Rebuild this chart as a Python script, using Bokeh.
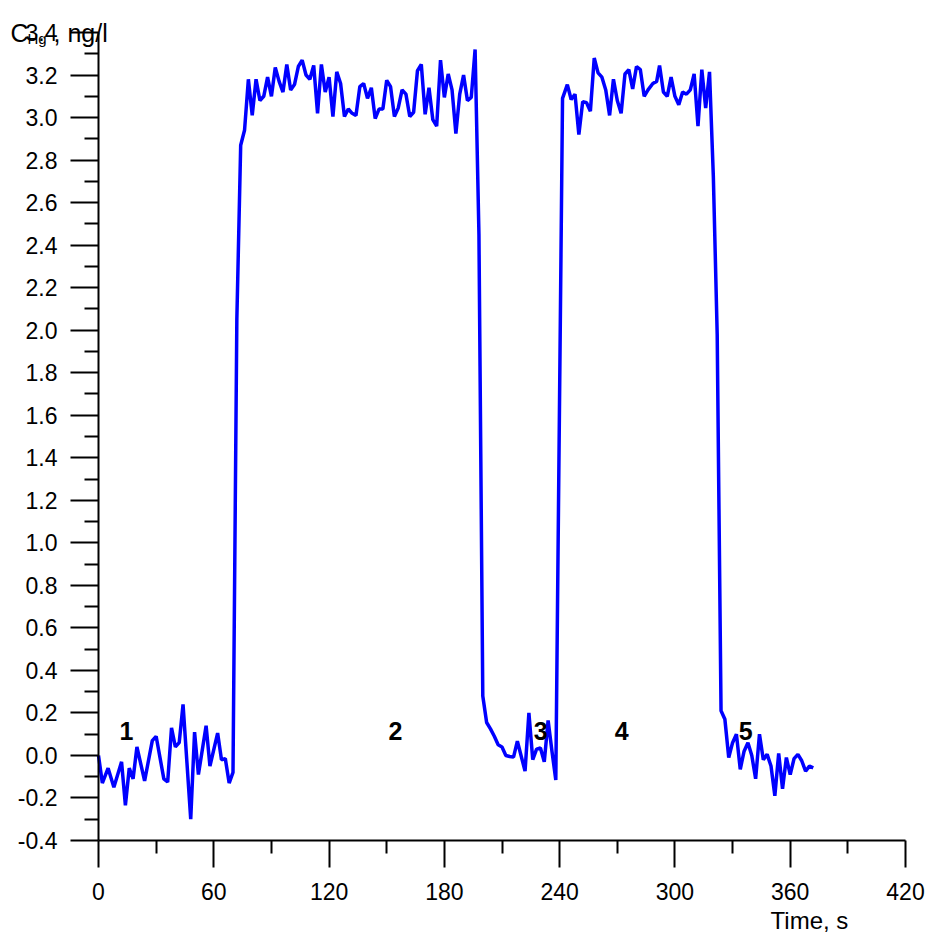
from bokeh.plotting import figure
from bokeh.models import Range1d, FixedTicker, PrintfTickFormatter, Label
from bokeh.embed import file_html
from bokeh.resources import INLINE

# time (s) and Hg concentration (ng/l)
time_s = [0, 2, 5, 8, 12, 14, 16, 18, 20, 24, 28, 30, 34, 36, 38, 40, 42, 44, 48, 50,
          52, 56, 58, 62, 64, 66, 68, 70, 72, 74, 76, 78, 80, 82, 84, 86, 88, 90, 92, 94,
          96, 98, 100, 102, 104, 106, 108, 110, 112, 114, 116, 118, 120, 122, 124, 126,
          128, 130, 132, 134, 136, 138, 140, 142, 144, 146, 148, 150, 152, 154, 156, 158,
          160, 162, 164, 166, 168, 170, 172, 174, 176, 178, 180, 182, 184, 186, 188, 190,
          192, 194, 196, 198, 200, 202, 204, 206, 208, 210, 212, 214, 216, 218, 222, 224,
          226, 228, 230, 232, 234, 236, 238, 241.5, 244, 246, 248, 250, 252, 254, 256, 258,
          260, 262, 264, 266, 268, 270, 272, 274, 276, 278, 280, 282, 284, 286, 288.5, 290.5,
          292, 294, 296, 298, 300, 302, 304, 306, 308, 310, 312, 314, 316, 318, 320, 322,
          324, 326, 328, 330, 332, 334, 336, 338, 340, 342, 344, 346, 348, 350, 352, 354,
          356, 358, 360, 362, 364, 366, 368, 370, 372]
conc = [0.0, -0.13, -0.06, -0.15, -0.03, -0.235, -0.06, -0.11, 0.04, -0.12, 0.07, 0.09,
        -0.11, -0.125, 0.13, 0.04, 0.06, 0.24, -0.30, 0.11, -0.09, 0.14, -0.05, 0.105,
        -0.02, -0.015, -0.13, -0.08, 2.05, 2.87, 2.94, 3.18, 3.01, 3.18, 3.08, 3.10, 3.19,
        3.10, 3.235, 3.17, 3.12, 3.25, 3.13, 3.155, 3.24, 3.27, 3.20, 3.18, 3.245, 3.02,
        3.25, 3.12, 3.19, 3.005, 3.215, 3.16, 3.005, 3.04, 3.02, 3.01, 3.145, 3.16, 3.09,
        3.14, 2.995, 3.04, 3.04, 3.175, 3.145, 3.005, 3.045, 3.13, 3.11, 3.005, 3.025,
        3.22, 3.25, 3.015, 3.14, 2.99, 2.96, 3.27, 3.095, 3.205, 3.13, 2.925, 3.11, 3.20,
        3.08, 3.095, 3.32, 2.45, 0.28, 0.155, 0.125, 0.09, 0.05, 0.04, 0.0, -0.005, -0.008,
        0.067, -0.074, 0.20, -0.02, 0.03, 0.035, -0.03, 0.165, 0.02, -0.115, 3.09, 3.155,
        3.085, 3.11, 2.92, 3.075, 3.07, 3.03, 3.28, 3.21, 3.19, 3.13, 3.01, 3.18, 3.08,
        3.02, 3.205, 3.225, 3.135, 3.24, 3.225, 3.10, 3.13, 3.16, 3.17, 3.245, 3.12, 3.10,
        3.19, 3.10, 3.06, 3.12, 3.11, 3.13, 3.205, 2.96, 3.225, 3.045, 3.215, 2.72, 1.98,
        0.21, 0.17, -0.01, 0.06, 0.10, -0.065, 0.02, 0.06, 0.0, -0.11, 0.10, -0.02, 0.005,
        -0.05, -0.19, 0.01, -0.157, -0.01, -0.09, -0.015, 0.005, -0.025, -0.074, -0.05,
        -0.058]

# stage labels
stage_text = ["1", "2", "3", "4", "5"]
stage_x = [14.6, 154.6, 230.1, 272.3, 336.8]
stage_y = [0.113, 0.113, 0.113, 0.113, 0.113]

x_major = [0, 60, 120, 180, 240, 300, 360, 420]
x_minor = [30, 90, 150, 210, 270, 330, 390]
y_major = [round(-0.4 + 0.2 * i, 1) for i in range(20)]
y_minor = [round(-0.3 + 0.2 * i, 1) for i in range(19)]

FONT = "Liberation Sans"
W, H = 925, 934

# frame covers the whole canvas; axes are pinned at x=0 and y=-0.4
p = figure(width=W, height=H, output_backend="svg", toolbar_location=None,
           x_range=Range1d(-51.004, 430.409), y_range=Range1d(-0.8421, 3.5505),
           min_border_left=0, min_border_right=0, min_border_top=0, min_border_bottom=0)
p.outline_line_color = None
p.xgrid.visible = False
p.ygrid.visible = False
p.background_fill_color = "white"
p.border_fill_color = "white"

p.line(time_s, conc, line_color="#0000FF", line_width=3.5)

for ax in (p.xaxis[0], p.yaxis[0]):
    ax.axis_line_color = "black"
    ax.axis_line_width = 2
    ax.major_tick_line_color = "black"
    ax.major_tick_line_width = 2
    ax.minor_tick_line_color = "black"
    ax.minor_tick_line_width = 2
    ax.major_tick_in = 0
    ax.minor_tick_in = 0
    ax.major_label_text_font = FONT
    ax.major_label_text_font_size = "23px"
    ax.major_label_text_color = "black"

p.xaxis.fixed_location = -0.4
p.xaxis.bounds = (0, 420)
p.xaxis.ticker = FixedTicker(ticks=x_major, minor_ticks=x_minor)
p.xaxis.major_tick_out = 27
p.xaxis.minor_tick_out = 13
p.xaxis.major_label_standoff = 16

p.yaxis.fixed_location = 0
p.yaxis.bounds = (-0.4, 3.4)
p.yaxis.ticker = FixedTicker(ticks=y_major, minor_ticks=y_minor)
p.yaxis.formatter = PrintfTickFormatter(format="%.1f")
p.yaxis.major_tick_out = 28
p.yaxis.minor_tick_out = 14
p.yaxis.major_label_standoff = 13

for t, sx, sy in zip(stage_text, stage_x, stage_y):
    p.add_layout(Label(x=sx, y=sy, text=t, text_font=FONT, text_font_size="25px",
                       text_font_style="bold", text_align="center",
                       text_baseline="middle", text_color="black"))

# axis titles
p.add_layout(Label(x=-45.8, y=3.40, text="C", text_font=FONT, text_font_size="25px",
                   text_baseline="alphabetic", text_align="left", text_color="black"))
p.add_layout(Label(x=-37.0, y=3.372, text="Hg", text_font=FONT, text_font_size="15px",
                   text_baseline="alphabetic", text_align="left", text_color="black"))
p.add_layout(Label(x=-23.4, y=3.40, text=", ng/l", text_font=FONT, text_font_size="25px",
                   text_baseline="alphabetic", text_align="left", text_color="black"))
p.add_layout(Label(x=370, y=-0.7762, text="Time, s", text_font=FONT, text_font_size="24px",
                   text_baseline="alphabetic", text_align="center", text_color="black"))

open("out.html", "w").write(file_html(p, INLINE))
